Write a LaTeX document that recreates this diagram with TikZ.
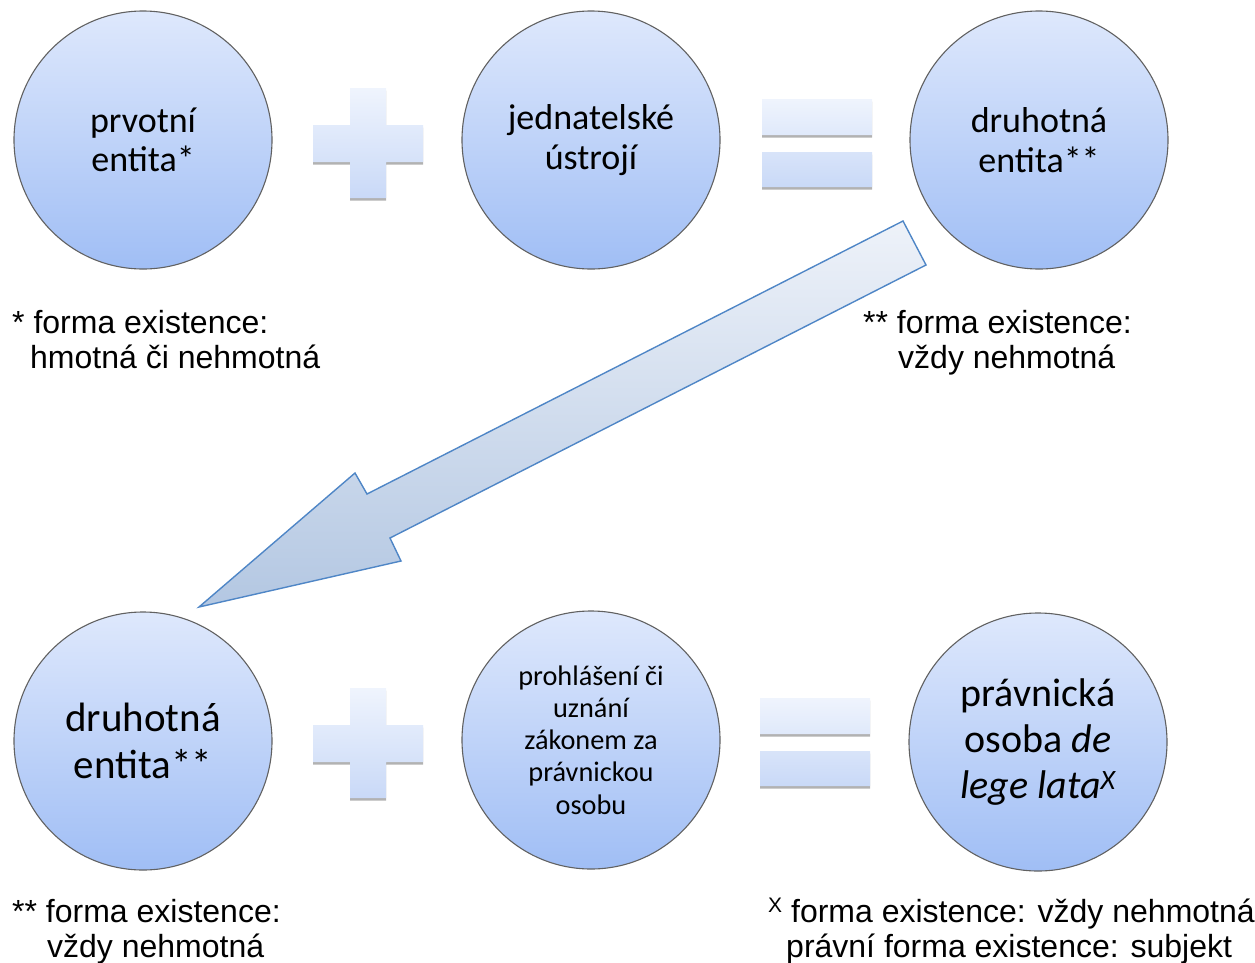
\documentclass[tikz,border=0pt]{standalone}
\usepackage{fontspec}
\setmainfont{Liberation Sans}
\newfontfamily\calfont{Carlito}
\definecolor{ctop}{HTML}{DEE8FC}
\definecolor{cbot}{HTML}{A0BEF5}
\definecolor{stop}{HTML}{EFF4FD}
\definecolor{sbot}{HTML}{C9D9F7}
\definecolor{atop}{HTML}{EEF2F9}
\definecolor{abot}{HTML}{B3C7E2}
\definecolor{aline}{HTML}{4F86C6}
\begin{document}
\begin{tikzpicture}[x=1pt,y=-1pt,
  ent/.style={circle, minimum size=258pt, inner sep=0pt, top color=ctop, bottom color=cbot,
    draw=black!62, line width=1.1pt, align=center},
  f35/.style={font=\calfont\fontsize{36}{39.5}\selectfont},
  f41/.style={font=\calfont\fontsize{41}{47}\selectfont},
  f40/.style={font=\calfont\fontsize{40}{46}\selectfont},
  f28/.style={font=\calfont\fontsize{28.3}{32.2}\selectfont},
  captxt/.style={anchor=base west, inner sep=0pt, font=\fontsize{32}{35}\selectfont},
  symb/.style={top color=stop, bottom color=sbot},
  symbshadow/.style={fill=black!30},
  bigarrow/.style={top color=atop, bottom color=abot, draw=aline, line width=1.4pt, line join=miter}
]
\useasboundingbox (0,0) rectangle (1255,962);

% block arrow
\coordinate (t1) at (903,221);
\coordinate (t2) at (926,265);
\coordinate (r1) at (390,538);
\coordinate (r2) at (401,561);
\coordinate (tip) at (199,607);
\coordinate (l2) at (355,473);
\coordinate (l1) at (367,494);
\path[bigarrow] (t1) -- (t2) -- (r1) -- (r2) -- (tip) -- (l2) -- (l1) -- cycle;

% circles
\node[ent,f35] (c1) at (143,140) {prvotní\\entita*};
\node[ent,f35] (c2) at (591,140) {jednatelské\\ústrojí};
\node[ent,f35] (c3) at (1039,140) {druhotná\\entita**};
\node[ent,f41] (c4) at (143,741) {druhotná\\entita**};
\node[ent,f28] (c5) at (591,740) {prohlášení či\\uznání\\zákonem za\\právnickou\\osobu};
\node[ent,f40] (c6) at (1038,742) {právnická\\osoba \textit{de}\\\textit{lege lata\textsuperscript{X}}};

% plus signs
\foreach \dy in {0,600}{
  \begin{scope}[yshift=-\dy pt]
    \fill[symbshadow] (350,90.5) -- (386,90.5) -- (386,127.5) -- (423,127.5) -- (423,164.5) -- (386,164.5) -- (386,200.5) -- (350,200.5) -- (350,164.5) -- (313,164.5) -- (313,127.5) -- (350,127.5) -- cycle;
    \path[symb] (350,88) -- (386,88) -- (386,125) -- (423,125) -- (423,162) -- (386,162) -- (386,198) -- (350,198) -- (350,162) -- (313,162) -- (313,125) -- (350,125) -- cycle;
  \end{scope}
}
% equals signs
\fill[symbshadow] (762,101.5) rectangle (872,137.5) (762,154.5) rectangle (872,189.5);
\path[symb] (762,99) rectangle (872,135) (762,152) rectangle (872,187);
\fill[symbshadow] (760,700.5) rectangle (870,736.5) (760,753.5) rectangle (870,788.5);
\path[symb] (760,698) rectangle (870,734) (760,751) rectangle (870,786);

% captions
\node[captxt] (n1a) at (12,333) {* forma existence:};
\node[captxt] (n1b) at (30,368) {hmotná či nehmotná};
\node[captxt] (n2a) at (863,333) {** forma existence:};
\node[captxt] (n2b) at (898,368) {vždy nehmotná};
\node[captxt] (n3a) at (12,922) {** forma existence:};
\node[captxt] (n3b) at (47,957) {vždy nehmotná};
\node[captxt] (n4a) at (768,922) {\raisebox{10pt}{\fontsize{21}{21}\selectfont X} forma existence: vždy nehmotná};
\node[captxt] (n4b) at (786,957) {právní forma existence: subjekt};
\end{tikzpicture}
\end{document}
